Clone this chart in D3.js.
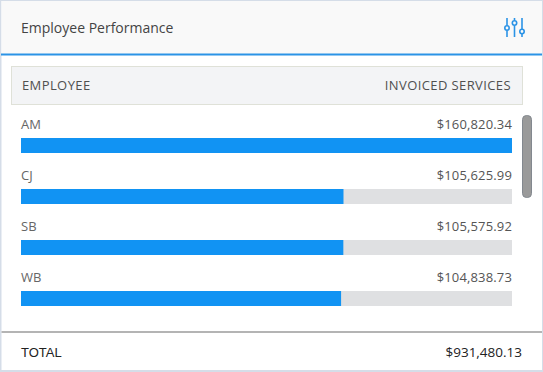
<!DOCTYPE html>
<html>
<head>
<meta charset="utf-8">
<script src="https://cdn.jsdelivr.net/npm/d3@7"></script>
<style>
  html, body { margin: 0; padding: 0; background: #fff; overflow: hidden; }
  text { font-family: "Open Sans", sans-serif; }
</style>
</head>
<body>
<div id="chart-area"></div>
<script>
// DATA
// ****
const title = "Employee Performance"
const headers = ["EMPLOYEE", "INVOICED SERVICES"]
const employees = ["AM", "CJ", "SB", "WB"]
const invoiced = [160820.34, 105625.99, 105575.92, 104838.73]
const totalLabel = "TOTAL"
const totalValue = 931480.13

// CANVAS
// ******
const width = 543
const height = 372

const svg = d3.select("#chart-area")
  .append("svg")
    .attr("width", width)
    .attr("height", height)
    .style("display", "block")

const money = d3.format("$,.2f")

// SCALES
// ******
const x = d3.scaleLinear().domain([0, d3.max(invoiced)]).range([21, 512])
const y = d3.scaleBand().domain(employees).range([115, 319]).paddingInner(0).paddingOuter(0)

// PANEL
// *****
svg.append("rect").attr("width", width).attr("height", height).attr("fill", "#d5dde8")
svg.append("rect").attr("x", 1.5).attr("y", 1).attr("width", width - 2.5).attr("height", height - 3).attr("fill", "#fff")
svg.append("rect").attr("x", 1.5).attr("y", 1).attr("width", width - 2.5).attr("height", 53).attr("fill", "#f9f9f9")
svg.append("rect").attr("x", 1).attr("y", 53.5).attr("width", width - 2).attr("height", 2).attr("fill", "#2b93e6")

svg.append("text")
  .attr("x", 21)
  .attr("y", 33)
  .attr("font-size", "14px")
  .attr("fill", "#444")
  .text(title)

// FILTER ICON
// ***********
const icon = svg.append("g").attr("fill", "none").attr("stroke", "#2b93e6").attr("stroke-width", 1.6)
const sliders = [{x: 507, knob: 28}, {x: 514.5, knob: 23}, {x: 522, knob: 31.5}]
sliders.forEach(s => {
  icon.append("line").attr("x1", s.x).attr("x2", s.x).attr("y1", 18).attr("y2", s.knob - 2.5)
  icon.append("line").attr("x1", s.x).attr("x2", s.x).attr("y1", s.knob + 2.5).attr("y2", 37)
  icon.append("circle").attr("cx", s.x).attr("cy", s.knob).attr("r", 2.2)
})

// TABLE HEADER
// ************
svg.append("rect")
  .attr("x", 11.5)
  .attr("y", 66.5)
  .attr("width", 511)
  .attr("height", 38)
  .attr("fill", "#f3f4f6")
  .attr("stroke", "#dfe1d8")

svg.append("text")
  .attr("x", 22)
  .attr("y", 90)
  .attr("font-size", "13px")
  .attr("letter-spacing", "0.4px")
  .attr("fill", "#505050")
  .text(headers[0])

svg.append("text")
  .attr("x", 511)
  .attr("y", 90)
  .attr("text-anchor", "end")
  .attr("font-size", "13px")
  .attr("letter-spacing", "0.4px")
  .attr("fill", "#505050")
  .text(headers[1])

// ROWS
// ****
const rows = svg.selectAll("g.row").data(employees)
  .enter()
  .append("g")
    .attr("class", "row")
    .attr("transform", d => "translate(0, " + y(d) + ")")

rows.append("text")
  .attr("x", 21)
  .attr("y", 13.5)
  .attr("font-size", "13px")
  .attr("fill", "#666")
  .text(d => d)

rows.append("text")
  .attr("x", 512)
  .attr("y", 13.5)
  .attr("text-anchor", "end")
  .attr("font-size", "13px")
  .attr("letter-spacing", "0.15px")
  .attr("fill", "#555")
  .text((d, i) => money(invoiced[i]))

rows.append("rect")
  .attr("x", x(0))
  .attr("y", 23)
  .attr("width", x.range()[1] - x(0))
  .attr("height", 15)
  .attr("fill", "#dfe0e2")

rows.append("rect")
  .attr("x", x(0))
  .attr("y", 23)
  .attr("width", (d, i) => x(invoiced[i]) - x(0))
  .attr("height", 15)
  .attr("fill", "#1193f3")

// SCROLLBAR
// *********
svg.append("rect")
  .attr("x", 522.5)
  .attr("y", 115.5)
  .attr("width", 9)
  .attr("height", 82)
  .attr("rx", 4)
  .attr("fill", "#9a9a9a")
  .attr("stroke", "#83888f")

// TOTAL
// *****
svg.append("rect").attr("x", 1.5).attr("y", 331).attr("width", width - 2.5).attr("height", 2).attr("fill", "#b4b4b4")

svg.append("text")
  .attr("x", 21)
  .attr("y", 357)
  .attr("font-size", "13px")
  .style("font-family", "'Liberation Sans', sans-serif")
  .attr("fill", "#222")
  .text(totalLabel)

svg.append("text")
  .attr("x", 522)
  .attr("y", 357)
  .attr("text-anchor", "end")
  .attr("font-size", "13.5px")
  .attr("fill", "#222")
  .text(money(totalValue))
</script>
</body>
</html>
